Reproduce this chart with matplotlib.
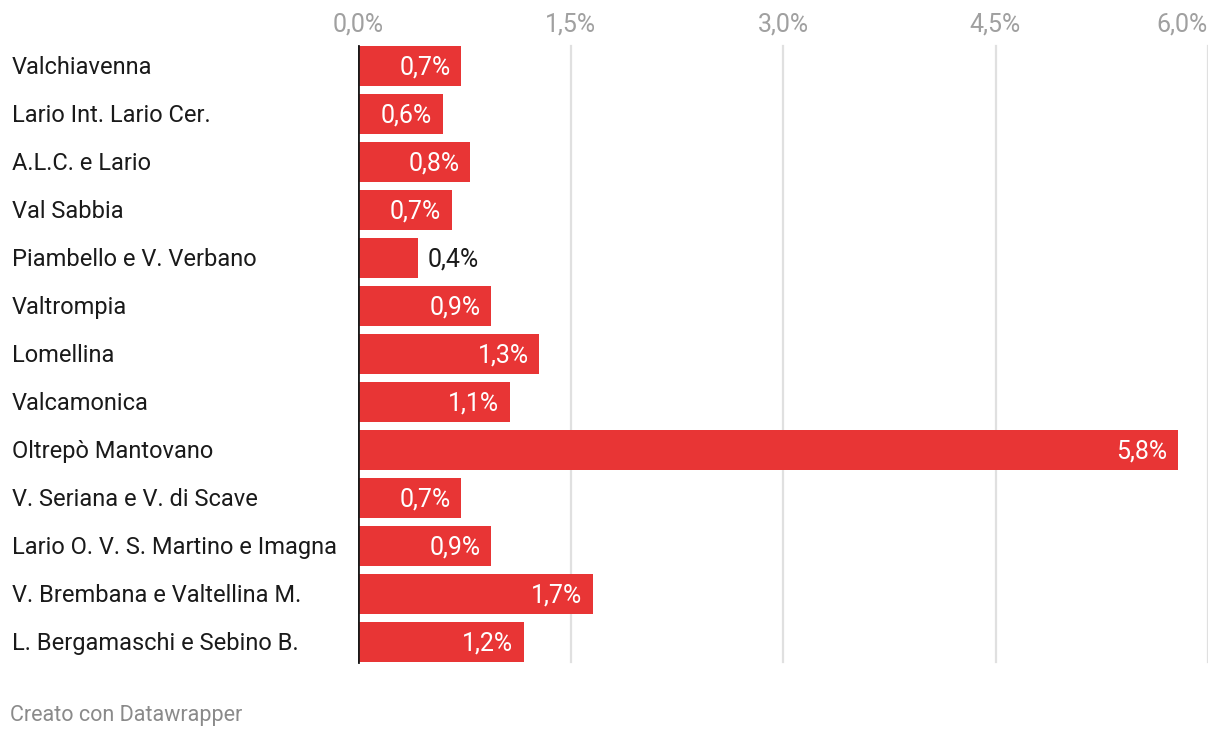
import matplotlib

matplotlib.use("Agg")

import matplotlib.pyplot as plt

plt.rcParams["font.family"] = ["Roboto", "DejaVu Sans"]

# ── Data ─────────────────────────────────────────────────────────────────────
areas = [
    "Valchiavenna",
    "Lario Int. Lario Cer.",
    "A.L.C. e Lario",
    "Val Sabbia",
    "Piambello e V. Verbano",
    "Valtrompia",
    "Lomellina",
    "Valcamonica",
    "Oltrepò Mantovano",
    "V. Seriana e V. di Scave",
    "Lario O. V. S. Martino e Imagna",
    "V. Brembana e Valtellina M.",
    "L. Bergamaschi e Sebino B.",
]
values = [0.73, 0.60, 0.79, 0.66, 0.42, 0.94, 1.28, 1.07, 5.79, 0.73, 0.94, 1.66, 1.17]
ticks = [0.0, 1.5, 3.0, 4.5, 6.0]

BAR = "#e83535"
W, H = 1220, 738

fig = plt.figure(figsize=(W / 100, H / 100), dpi=100)
left, right, top, bottom = 358, 1208, 42, 666
ax = fig.add_axes([left / W, 1 - bottom / H, (right - left) / W, (bottom - top) / H])

y = list(range(len(areas)))
ax.barh(y, values, height=40 / 48, color=BAR, zorder=2)
ax.set_ylim(len(areas) - 0.5, -0.5)
ax.set_xlim(0, 6.0)

for sp in ax.spines.values():
    sp.set_visible(False)
ax.set_yticks([])
ax.set_xticks([])

# gridlines limited to bar area
y0, y1 = len(areas) - 1 + 20 / 48, -20 / 48
for t in ticks[1:]:
    ax.plot([t, t], [y0, y1], color="#e0e0e0", lw=1.6, zorder=1)
ax.plot([0, 0], [y0, y1], color="#1a1a1a", lw=2, zorder=3)

# tick labels on top
for t in ticks:
    ax.text(t, -0.86, f"{t:.1f}%".replace(".", ","),
            ha="center" if t < 6 else "right", va="center", fontsize=18,
            color="#a0a0a0")

# category labels
for i, name in enumerate(areas):
    fig.text(12 / W, 1 - (67.5 + 48 * i) / H, name, ha="left", va="center",
             fontsize=17, color="#1a1a1a")

# value labels
for i, v in enumerate(values):
    lab = f"{v:.1f}%".replace(".", ",")
    if v < 0.5:
        ax.text(v + 0.07, i + 0.03, lab, ha="left", va="center", fontsize=18,
                color="#1a1a1a")
    else:
        ax.text(v - 0.075, i + 0.03, lab, ha="right", va="center", fontsize=18,
                color="white")

fig.text(10 / W, 1 - 715 / H, "Creato con Datawrapper", ha="left", va="center",
         fontsize=15.5, color="#8a8a8a")

fig.savefig("out.png", dpi=100)
